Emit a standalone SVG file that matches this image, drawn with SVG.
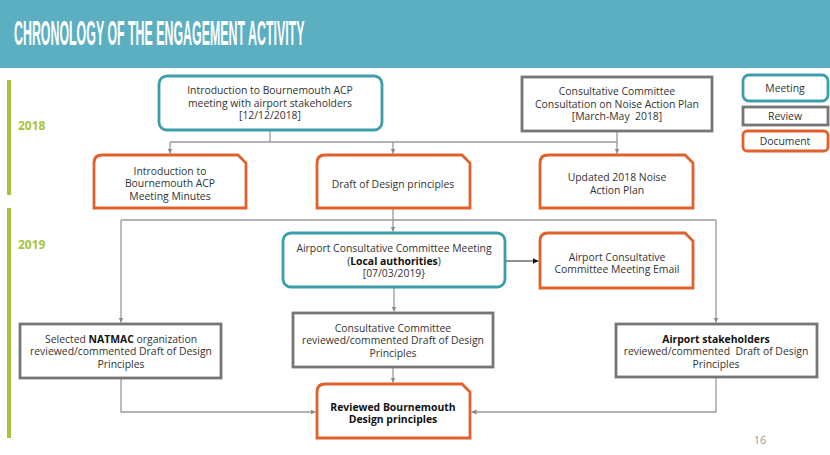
<svg xmlns="http://www.w3.org/2000/svg" width="830" height="455" viewBox="0 0 830 455">
<defs>
<style>
.t{font-family:"Open Sans","Noto Sans","DejaVu Sans",sans-serif;font-size:10.4px;fill:#333;text-anchor:middle}
.b{font-weight:bold;fill:#111}
.meet{fill:#fff;stroke:#3c9ea9;stroke-width:2.8}
.rev{fill:#fff;stroke:#767676;stroke-width:2.8}
.doc{fill:#fff;stroke:#e0612b;stroke-width:2.8}
.c{fill:none;stroke:#9a9a9a;stroke-width:1.3}
.year{font-family:"Open Sans","Noto Sans",sans-serif;font-size:12px;font-weight:bold;fill:#a9c23c}
</style>
<marker id="ag" markerUnits="userSpaceOnUse" markerWidth="6" markerHeight="6" refX="5" refY="3" orient="auto">
<path d="M0,0.5 L5,3 L0,5.5 Z" fill="#8a8a8a"/>
</marker>
<marker id="ab" markerUnits="userSpaceOnUse" markerWidth="7" markerHeight="7" refX="6" refY="3.5" orient="auto">
<path d="M0,0.5 L6,3.5 L0,6.5 Z" fill="#111"/>
</marker>
</defs>
<rect width="830" height="455" fill="#fff"/>
<g id="header">
<rect x="0" y="0" width="830" height="68" fill="#5cafc1"/>
<text transform="translate(14,45) scale(0.354,1)" x="0" y="0" font-family="'Liberation Sans',sans-serif" font-weight="bold" font-size="35" fill="#fff">CHRONOLOGY OF THE ENGAGEMENT ACTIVITY</text>
</g>
<g id="timeline">
<rect x="7" y="80" width="4" height="115" fill="#a9c23c"/>
<rect x="7" y="208" width="4" height="230" fill="#a9c23c"/>
<text class="year" x="18" y="130">2018</text>
<text class="year" x="18" y="249">2019</text>
</g>
<g id="connectors">
<path class="c" d="M270,131 V142 M170,142 H617"/>
<path class="c" d="M170,142 V153.5" marker-end="url(#ag)"/>
<path class="c" d="M393,142 V153.5" marker-end="url(#ag)"/>
<path class="c" d="M617,132 V153.5" marker-end="url(#ag)"/>
<path class="c" d="M393,209 V220 M121,220 H716"/>
<path class="c" d="M393,220 V231.5" marker-end="url(#ag)"/>
<path class="c" d="M121,220 V322.5" marker-end="url(#ag)"/>
<path class="c" d="M716,220 V322.5" marker-end="url(#ag)"/>
<path fill="none" stroke="#222" stroke-width="1.2" d="M506,261 H538.5" marker-end="url(#ab)"/>
<path class="c" d="M394,288 V311.5" marker-end="url(#ag)"/>
<path class="c" d="M393,368 V382.5" marker-end="url(#ag)"/>
<path class="c" d="M121,379 V412 H315.5" marker-end="url(#ag)"/>
<path class="c" d="M716,378 V412 H471.5" marker-end="url(#ag)"/>
</g>
<g id="meeting-intro">
<rect class="meet" x="159" y="76" width="223" height="54" rx="8"/>
<text class="t" x="270" y="94">Introduction to Bournemouth ACP</text>
<text class="t" x="270" y="106.5">meeting with airport stakeholders</text>
<text class="t" x="270" y="119">[12/12/2018]</text>
</g>
<g id="review-noise">
<rect class="rev" x="522" y="77" width="190" height="54"/>
<text class="t" x="617" y="95">Consultative Committee</text>
<text class="t" x="617" y="107.5">Consultation on Noise Action Plan</text>
<text class="t" x="617" y="120" xml:space="preserve">[March-May  2018]</text>
</g>
<g id="legend">
<rect class="meet" x="743" y="75" width="85" height="26" rx="6"/>
<text class="t" x="785" y="91.5">Meeting</text>
<rect class="rev" x="743" y="107" width="85" height="18"/>
<text class="t" x="785" y="119.5">Review</text>
<rect class="doc" x="743" y="131" width="85" height="20" rx="4"/>
<text class="t" x="785" y="144.5">Document</text>
</g>
<g id="doc-minutes">
<path class="doc" d="M94,208 L94,163 Q94,155 102,155 L238,155 L246,163 L246,208 Z"/>
<text class="t" x="170" y="174.5">Introduction to</text>
<text class="t" x="170" y="187">Bournemouth ACP</text>
<text class="t" x="170" y="199.5">Meeting Minutes</text>
</g>
<g id="doc-draft">
<path class="doc" d="M317,208 L317,163 Q317,155 325,155 L462,155 L470,163 L470,208 Z"/>
<text class="t" x="393" y="187.5">Draft of Design principles</text>
</g>
<g id="doc-noise">
<path class="doc" d="M540,208 L540,163 Q540,155 548,155 L685,155 L693,163 L693,208 Z"/>
<text class="t" x="617" y="181">Updated 2018 Noise</text>
<text class="t" x="617" y="193.5">Action Plan</text>
</g>
<g id="meeting-acc">
<rect class="meet" x="283" y="233" width="222" height="54" rx="8"/>
<text class="t" x="394" y="252">Airport Consultative Committee Meeting</text>
<text class="t" x="394" y="264.5">(<tspan class="b">Local authorities</tspan>)</text>
<text class="t" x="394" y="277">[07/03/2019}</text>
</g>
<g id="doc-email">
<path class="doc" d="M540,288 L540,241 Q540,233 548,233 L685,233 L693,241 L693,288 Z"/>
<text class="t" x="617" y="260.5">Airport Consultative</text>
<text class="t" x="617" y="273">Committee Meeting Email</text>
</g>
<g id="review-natmac">
<rect class="rev" x="20" y="324" width="201" height="54"/>
<text class="t" x="121" y="342.5">Selected <tspan class="b">NATMAC</tspan> organization</text>
<text class="t" x="121" y="355">reviewed/commented Draft of Design</text>
<text class="t" x="121" y="367.5">Principles</text>
</g>
<g id="review-cc">
<rect class="rev" x="293" y="313" width="200" height="54"/>
<text class="t" x="393" y="331.5">Consultative Committee</text>
<text class="t" x="393" y="344">reviewed/commented Draft of Design</text>
<text class="t" x="393" y="356.5">Principles</text>
</g>
<g id="review-stakeholders">
<rect class="rev" x="616" y="324" width="201" height="53"/>
<text class="t b" x="716" y="342.5">Airport stakeholders</text>
<text class="t" x="716" y="355" xml:space="preserve">reviewed/commented  Draft of Design</text>
<text class="t" x="716" y="367.5">Principles</text>
</g>
<g id="doc-reviewed">
<path class="doc" d="M317,438 L317,392 Q317,384 325,384 L462,384 L470,392 L470,438 Z"/>
<text class="t b" x="393" y="410.5">Reviewed Bournemouth</text>
<text class="t b" x="393" y="423">Design principles</text>
</g>
<text x="760" y="444" font-family="'Open Sans',sans-serif" font-size="11" fill="#9a9a9a" text-anchor="middle">16</text>
</svg>
